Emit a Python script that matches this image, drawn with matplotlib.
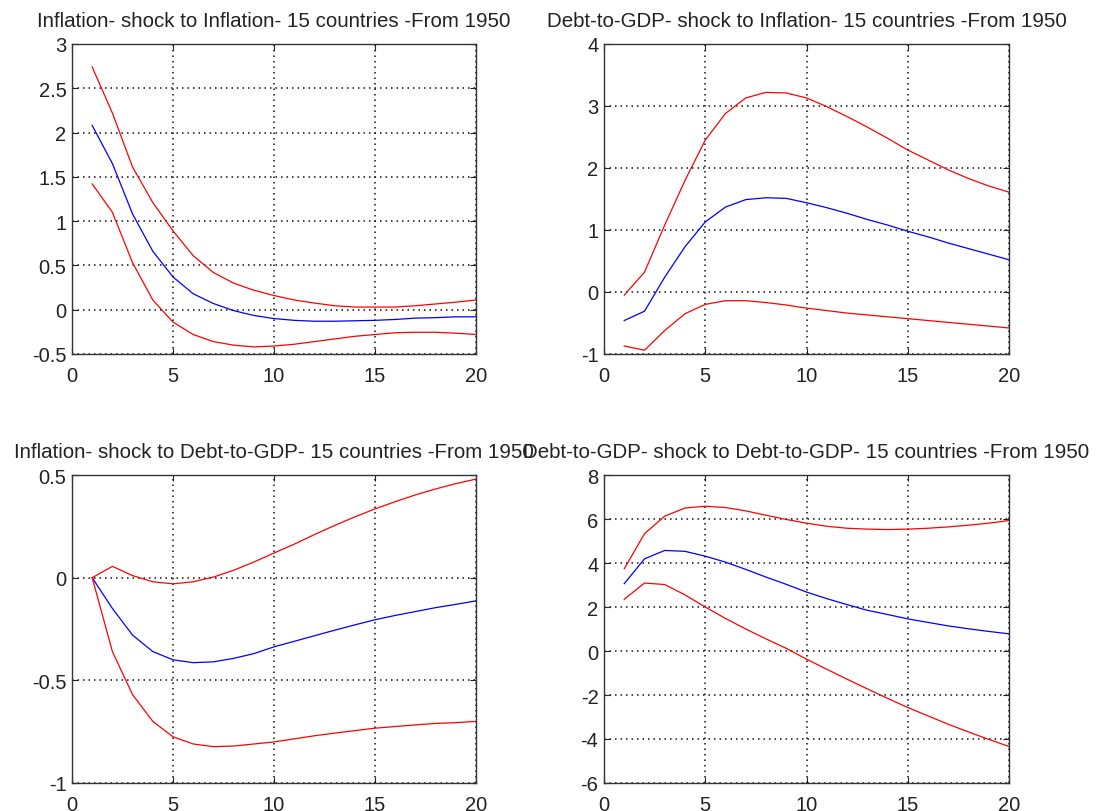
import matplotlib
matplotlib.use("Agg")
import matplotlib.pyplot as plt

plt.rcParams['font.family'] = ['Liberation Sans', 'DejaVu Sans']

horizon = list(range(1, 21))

# Inflation response to an inflation shock
inf_inf_upper = [2.74, 2.22, 1.61, 1.21, 0.89, 0.61, 0.42, 0.30, 0.22, 0.16,
                 0.11, 0.075, 0.045, 0.03, 0.03, 0.03, 0.045, 0.065, 0.085, 0.11]
inf_inf_mid = [2.08, 1.65, 1.08, 0.66, 0.37, 0.18, 0.07, -0.01, -0.065, -0.10,
               -0.12, -0.13, -0.13, -0.125, -0.12, -0.11, -0.095, -0.09, -0.08, -0.08]
inf_inf_lower = [1.42, 1.10, 0.53, 0.11, -0.14, -0.28, -0.36, -0.40, -0.42, -0.41,
                 -0.39, -0.36, -0.33, -0.30, -0.28, -0.26, -0.255, -0.255, -0.265, -0.28]

# Debt-to-GDP response to an inflation shock
debt_inf_upper = [-0.05, 0.32, 1.08, 1.80, 2.45, 2.88, 3.13, 3.22, 3.21, 3.13,
                  2.99, 2.83, 2.66, 2.48, 2.29, 2.13, 1.97, 1.83, 1.71, 1.61]
debt_inf_mid = [-0.46, -0.31, 0.24, 0.73, 1.13, 1.37, 1.49, 1.52, 1.51, 1.44,
                1.36, 1.27, 1.17, 1.08, 0.98, 0.89, 0.79, 0.70, 0.61, 0.52]
debt_inf_lower = [-0.87, -0.94, -0.62, -0.35, -0.20, -0.14, -0.14, -0.17, -0.21, -0.26,
                  -0.30, -0.34, -0.37, -0.40, -0.43, -0.46, -0.49, -0.52, -0.55, -0.58]

# Inflation response to a debt-to-GDP shock
inf_debt_upper = [0.0, 0.055, 0.01, -0.02, -0.03, -0.02, 0.003, 0.036, 0.076, 0.12,
                  0.163, 0.21, 0.254, 0.296, 0.335, 0.37, 0.403, 0.432, 0.458, 0.48]
inf_debt_mid = [0.0, -0.15, -0.28, -0.36, -0.40, -0.414, -0.41, -0.393, -0.37, -0.337,
                -0.31, -0.283, -0.256, -0.23, -0.205, -0.184, -0.165, -0.146, -0.13, -0.113]
inf_debt_lower = [0.0, -0.36, -0.57, -0.70, -0.775, -0.81, -0.823, -0.82, -0.81, -0.80,
                  -0.785, -0.77, -0.757, -0.745, -0.733, -0.725, -0.717, -0.71, -0.706, -0.70]

# Debt-to-GDP response to a debt-to-GDP shock
debt_debt_upper = [3.74, 5.33, 6.13, 6.50, 6.58, 6.52, 6.37, 6.17, 5.98, 5.81,
                   5.67, 5.58, 5.54, 5.52, 5.54, 5.58, 5.64, 5.72, 5.81, 5.93]
debt_debt_mid = [3.06, 4.19, 4.57, 4.53, 4.31, 4.04, 3.71, 3.36, 3.03, 2.68,
                 2.38, 2.11, 1.85, 1.66, 1.46, 1.30, 1.14, 1.01, 0.89, 0.78]
debt_debt_lower = [2.35, 3.09, 3.02, 2.55, 2.00, 1.48, 1.00, 0.55, 0.12, -0.37,
                   -0.83, -1.28, -1.72, -2.15, -2.57, -2.95, -3.33, -3.68, -4.02, -4.34]

titles = [
    "Inflation- shock to Inflation- 15 countries -From 1950",
    "Debt-to-GDP- shock to Inflation- 15 countries -From 1950",
    "Inflation- shock to Debt-to-GDP- 15 countries -From 1950",
    "Debt-to-GDP- shock to Debt-to-GDP- 15 countries -From 1950",
]
yticks = [
    [-0.5, 0, 0.5, 1, 1.5, 2, 2.5, 3],
    [-1, 0, 1, 2, 3, 4],
    [-1, -0.5, 0, 0.5],
    [-6, -4, -2, 0, 2, 4, 6, 8],
]
ytick_labels = [
    ["-0.5", "0", "0.5", "1", "1.5", "2", "2.5", "3"],
    ["-1", "0", "1", "2", "3", "4"],
    ["-1", "-0.5", "0", "0.5"],
    ["-6", "-4", "-2", "0", "2", "4", "6", "8"],
]
xticks = [0, 5, 10, 15, 20]
series = [
    (inf_inf_upper, inf_inf_mid, inf_inf_lower),
    (debt_inf_upper, debt_inf_mid, debt_inf_lower),
    (inf_debt_upper, inf_debt_mid, inf_debt_lower),
    (debt_debt_upper, debt_debt_mid, debt_debt_lower),
]

W, H = 1101, 812
fig = plt.figure(figsize=(W / 100, H / 100), dpi=100)
fig.patch.set_facecolor("white")

# axes boxes in pixel coordinates: (left, top, right, bottom)
boxes = [
    (72, 45, 476, 355),
    (604, 45, 1009, 355),
    (72, 476, 476, 784),
    (604, 476, 1009, 784),
]

for i, (l, t, r, b) in enumerate(boxes):
    ax = fig.add_axes([l / W, 1 - b / H, (r - l) / W, (b - t) / H])
    up, mid, lo = series[i]
    ax.plot(horizon, up, color="#ff0000", lw=0.9)
    ax.plot(horizon, mid, color="#0000ff", lw=0.9)
    ax.plot(horizon, lo, color="#ff0000", lw=0.9)
    ax.set_xlim(0, 20)
    ax.set_ylim(yticks[i][0], yticks[i][-1])
    ax.set_xticks(xticks)
    ax.set_xticklabels([str(v) for v in xticks])
    ax.set_yticks(yticks[i])
    ax.set_yticklabels(ytick_labels[i])
    ax.grid(True, color="#111111", linestyle=(0, (1, 2.6)), linewidth=1.1)
    ax.tick_params(direction="in", length=4, width=0.8, labelsize=14.5,
                   colors="#222222", top=True, right=True)
    ax.tick_params(axis="x", pad=9)
    ax.tick_params(axis="y", pad=4)
    for s in ax.spines.values():
        s.set_color("#333333")
        s.set_linewidth(1.0)
    ax.set_title(titles[i], fontsize=14.8, color="#222222", pad=13)

fig.savefig("out.png", dpi=100)
